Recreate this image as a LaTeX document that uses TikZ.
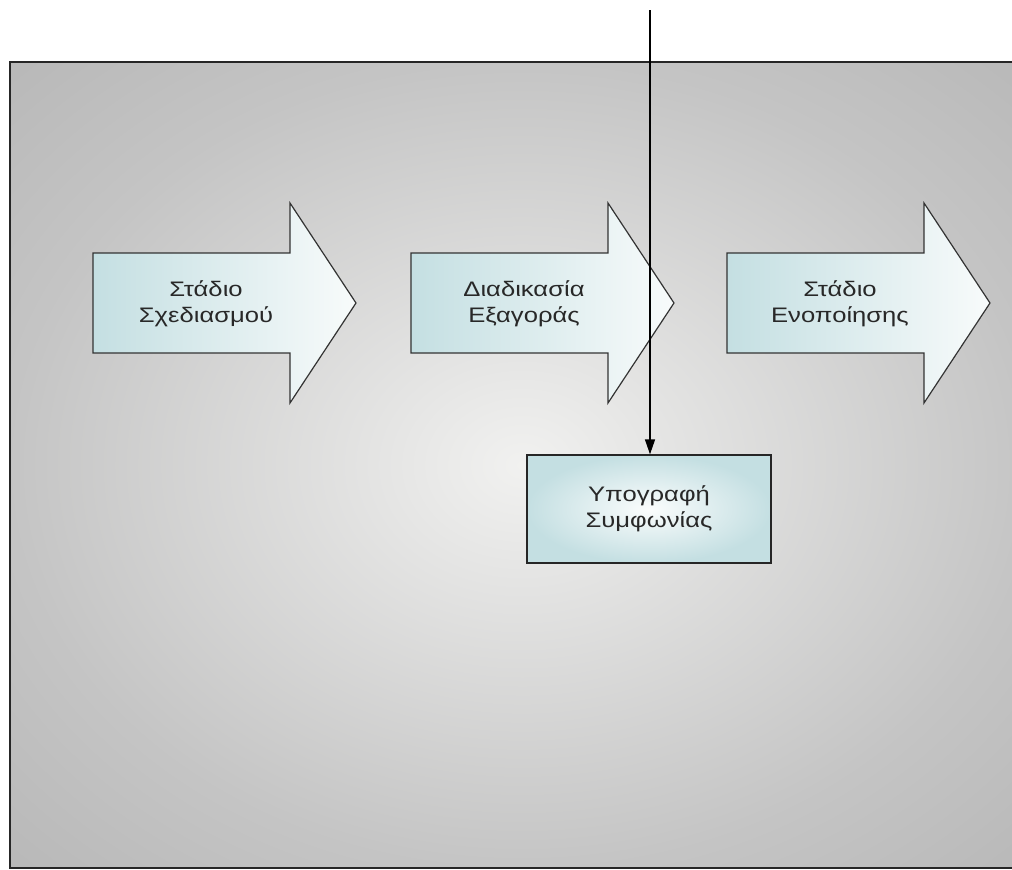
\documentclass[tikz,border=0pt]{standalone}
\usepackage{fontspec}
\setmainfont{Liberation Sans}[FakeStretch=1.22]
\usetikzlibrary{arrows.meta}
\definecolor{tealA}{RGB}{196,223,226}
\definecolor{tealB}{RGB}{248,251,251}
\definecolor{txt}{RGB}{40,40,40}
\pgfdeclareradialshading{bgshade}{\pgfpoint{0bp}{0bp}}{rgb(0bp)=(0.945,0.945,0.94);rgb(25bp)=(0.77,0.77,0.77);rgb(36bp)=(0.72,0.72,0.72);rgb(50bp)=(0.72,0.72,0.72)}
\newcommand{\stagearrow}[3]{%
  \path[arrowfill] (#1,253) -- (#1+197,253) -- (#1+197,203) -- (#1+263,303) -- (#1+197,403) -- (#1+197,353) -- (#1,353) -- cycle;
  \node[lbl] (#2) at (#1+113,304) {#3};}
\begin{document}
\begin{tikzpicture}[x=1pt,y=-1pt,
  lbl/.style={font=\fontsize{21}{26}\selectfont, text=txt, align=center},
  arrowfill/.style={left color=tealA, right color=tealB, draw=black!80, line width=1.2pt, line join=miter},
  box/.style={lbl, inner color=tealB!60!white, outer color=tealA, draw=black!85, line width=1.3pt, minimum width=244pt, minimum height=108pt},
  conn/.style={-{Triangle[length=15pt,width=10pt]}, line width=1.3pt, draw=black}]
\clip (0,0) rectangle (1012,870);
\fill[white] (0,0) rectangle (1012,870);
\path[shade, shading=bgshade, draw=black!85, line width=2pt] (10,62) rectangle (1034,868);
\stagearrow{93}{plan}{Στάδιο\\Σχεδιασμού}
\stagearrow{411}{buy}{Διαδικασία\\Εξαγοράς}
\stagearrow{727}{merge}{Στάδιο\\Ενοποίησης}
\node[box] (sign) at (649,509) {Υπογραφή\\Συμφωνίας};
\coordinate (top) at (650,10);
\draw[conn] (top) -- (top |- sign.north);
\end{tikzpicture}
\end{document}
